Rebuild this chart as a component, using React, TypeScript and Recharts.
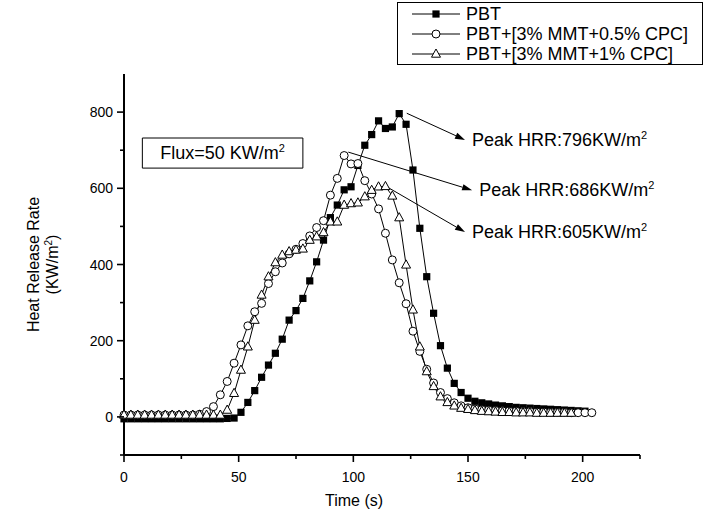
import React from "react";
import { LineChart, Line, XAxis, YAxis, Legend, ReferenceLine, ReferenceArea } from "recharts";

const FONT = '"Liberation Sans", Arial, Helvetica, sans-serif';

// time (s), one sample every 3 s
const times = [
  0, 3, 6, 9, 12, 15, 18, 21, 24, 27, 30, 33, 36, 39, 42, 45, 48, 51, 54, 57, 60, 63, 66, 69,
  72, 75, 78, 81, 84, 87, 90, 93, 96, 99, 102, 105, 108, 111, 114, 117, 120, 123, 126, 129,
  132, 135, 138, 141, 144, 147, 150, 153, 156, 159, 162, 165, 168, 171, 174, 177, 180, 183,
  186, 189, 192, 195, 198, 201, 204,
];

// HRR (KW/m2)
const pbt = [
  -5, -5, -5, -5, -5, -5, -5, -5, -5, -5, -5, -5, -5, -5, -5, -4, -3,
  12, 38, 69, 104, 136, 167, 204, 254, 279, 311, 357, 407, 464, 523, 556, 596, 604, 660, 713,
  741, 777, 757, 761, 796, 768, 648, 495,
  368, 272, 187, 128, 88, 64, 49, 41, 37, 34, 31, 29, 27, 25, 24, 23, 22, 21, 20, 19, 18, 17,
  16, 15, null,
];
const pbtHalfCpc = [
  5, 5, 5, 5, 5, 5, 5, 5, 5, 5, 5,
  7, 14, 27, 58, 93, 141, 189, 239, 276, 298, 350, 381, 404, 428, 440, 455, 475, 497, 515, 582,
  626, 686, 664, 665, 620, 585, 546, 482, 412, 352, 297, 225, 172,
  125, 89, 64, 48, 37, 29, 24, 21, 19, 18, 17, 16, 15, 15, 14, 14, 13, 13, 12, 12, 12, 11, 11,
  11, 11,
];
const pbtOneCpc = [
  5, 5, 5, 5, 5, 5, 5, 5, 5, 5, 5, 5, 5, 5, 5,
  18, 62, 123, 184, 254, 320, 368, 405, 425, 434, 438, 441, 464, 473, 484, 512, 512, 556, 560,
  562, 578, 595, 604, 605, 580, 523, 399, 281, 184,
  119, 80, 53, 38, 29, 23, 20, 17, 15, 14, 13, 12, 12, 11, 11, 11, 10, 10, 10, 10, 10, 10,
  null, null, null,
];

const seriesNames = ["PBT", "PBT+[3% MMT+0.5% CPC]", "PBT+[3% MMT+1% CPC]"];

const xTicks = [0, 25, 50, 75, 100, 125, 150, 175, 200, 225];
const xLabels = [0, 50, 100, 150, 200];
const yTicks = [-100, 0, 100, 200, 300, 400, 500, 600, 700, 800];
const yLabels = [0, 200, 400, 600, 800];

const peakTexts = ["Peak HRR:796KW/m", "Peak HRR:686KW/m", "Peak HRR:605KW/m"];
const arrowFrom = [
  { x: 123.3, y: 797 },
  { x: 97.8, y: 695 },
  { x: 114.6, y: 604 },
];
const arrowTo = [
  { x: 148.7, y: 727 },
  { x: 151.8, y: 595 },
  { x: 148.7, y: 485 },
];

const data = times.map((t, i) => ({
  t,
  pbt: pbt[i],
  half: pbtHalfCpc[i],
  one: pbtOneCpc[i],
}));

function SquareDot(p: any) {
  if (p.cx == null || p.cy == null || p.value == null) return <g />;
  return <rect x={p.cx - 3.6} y={p.cy - 3.6} width={7.2} height={7.2} fill="#000" />;
}

function CircleDot(p: any) {
  if (p.cx == null || p.cy == null || p.value == null) return <g />;
  return <circle cx={p.cx} cy={p.cy} r={4} fill="#fff" stroke="#000" strokeWidth={1} />;
}

function triPoints(cx: number, cy: number) {
  return `${cx},${cy - 5} ${cx - 4.5},${cy + 3.2} ${cx + 4.5},${cy + 3.2}`;
}

function TriangleDot(p: any) {
  if (p.cx == null || p.cy == null || p.value == null) return <g />;
  return <polygon points={triPoints(p.cx, p.cy)} fill="#fff" stroke="#000" strokeWidth={1} />;
}

function XTick({ x, y, payload }: any) {
  const major = xLabels.includes(payload.value);
  return (
    <g>
      <line x1={x} x2={x} y1={y} y2={y + (major ? 7 : 4)} stroke="#000" strokeWidth={1.6} />
      {major && (
        <text x={x} y={y + 27} textAnchor="middle" fontSize={14} fontFamily={FONT} fill="#000">
          {payload.value}
        </text>
      )}
    </g>
  );
}

function YTick({ x, y, payload }: any) {
  const major = yLabels.includes(payload.value);
  return (
    <g>
      <line x1={x} x2={x - (major ? 7 : 4)} y1={y} y2={y} stroke="#000" strokeWidth={1.6} />
      {major && (
        <text x={x - 11} y={y + 5} textAnchor="end" fontSize={14} fontFamily={FONT} fill="#000">
          {payload.value}
        </text>
      )}
    </g>
  );
}

function XTitle({ viewBox }: any) {
  return (
    <text x={viewBox.x + 230} y={viewBox.y + 51} textAnchor="middle" fontSize={16} fontFamily={FONT} fill="#000">
      Time (s)
    </text>
  );
}

function YTitle({ viewBox }: any) {
  const cy = viewBox.y + viewBox.height / 2;
  return (
    <g fontSize={16} fontFamily={FONT} fill="#000">
      <text x={39} y={cy} textAnchor="middle" transform={`rotate(-90, 39, ${cy})`}>
        Heat Release Rate
      </text>
      <text x={58} y={cy} textAnchor="middle" transform={`rotate(-90, 58, ${cy})`}>
        (KW/m<tspan dy={-6} fontSize={10}>2</tspan>
        <tspan dy={6}>)</tspan>
      </text>
    </g>
  );
}

function FluxLabel({ viewBox }: any) {
  const cx = viewBox.x + viewBox.width / 2;
  const cy = viewBox.y + viewBox.height / 2;
  return (
    <text x={cx} y={cy + 6} textAnchor="middle" fontSize={18} fontFamily={FONT} fill="#000">
      Flux=50 KW/m<tspan dy={-7} fontSize={11}>2</tspan>
    </text>
  );
}

function makeArrow(text: string) {
  return (p: any) => {
    const { x1, y1, x2, y2 } = p;
    const ang = Math.atan2(y2 - y1, x2 - x1);
    const len = 10;
    const w = 3.2;
    const bx = x2 - len * Math.cos(ang);
    const by = y2 - len * Math.sin(ang);
    const px = -Math.sin(ang) * w;
    const py = Math.cos(ang) * w;
    return (
      <g>
        <line x1={x1} y1={y1} x2={bx} y2={by} stroke="#000" strokeWidth={1} />
        <polygon points={`${x2},${y2} ${bx + px},${by + py} ${bx - px},${by - py}`} fill="#000" />
        <text x={x2 + 7} y={y2 + 6} fontSize={18} fontFamily={FONT} fill="#000">
          {text}
          <tspan dy={-7} fontSize={11}>2</tspan>
        </text>
      </g>
    );
  };
}

function LegendBox() {
  const markers = [
    (cx: number, cy: number) => <rect x={cx - 3.6} y={cy - 3.6} width={7.2} height={7.2} fill="#000" />,
    (cx: number, cy: number) => <circle cx={cx} cy={cy} r={4} fill="#fff" stroke="#000" />,
    (cx: number, cy: number) => <polygon points={triPoints(cx, cy)} fill="#fff" stroke="#000" />,
  ];
  return (
    <svg width={306} height={63} style={{ display: "block" }}>
      <rect x={0.5} y={0.5} width={305} height={62} fill="#fff" stroke="#000" strokeWidth={1} />
      {seriesNames.map((name, i) => {
        const cy = 12 + i * 20;
        return (
          <g key={name}>
            <line x1={15} x2={63} y1={cy} y2={cy} stroke="#000" strokeWidth={1} />
            {markers[i](39, cy)}
            <text x={69} y={cy + 6} fontSize={18} fontFamily={FONT} fill="#000">
              {name}
            </text>
          </g>
        );
      })}
    </svg>
  );
}

export default function App() {
  return (
    <div style={{ position: "absolute", left: 0, top: 0, width: 708, height: 512, background: "#fff", fontFamily: FONT }}>
      <LineChart width={708} height={512} data={data} margin={{ top: 74, right: 68, bottom: 0, left: 0 }}>
        <XAxis
          dataKey="t"
          type="number"
          domain={[0, 225]}
          ticks={xTicks}
          interval={0}
          tickSize={0}
          tickMargin={0}
          tickLine={false}
          tick={<XTick />}
          axisLine={{ stroke: "#000", strokeWidth: 2 }}
          height={57}
          label={<XTitle />}
        />
        <YAxis
          type="number"
          domain={[-100, 900]}
          ticks={yTicks}
          interval={0}
          tickSize={0}
          tickMargin={0}
          tickLine={false}
          tick={<YTick />}
          axisLine={{ stroke: "#000", strokeWidth: 2 }}
          width={124}
          label={<YTitle />}
        />
        <Legend
          layout="vertical"
          align="center"
          verticalAlign="middle"
          content={<LegendBox />}
          wrapperStyle={{ left: 397, top: 2, width: 306, height: 63 }}
        />
        <ReferenceArea
          x1={8}
          x2={78}
          y1={653}
          y2={732}
          fill="#fff"
          fillOpacity={1}
          stroke="#000"
          strokeWidth={1}
          ifOverflow="visible"
          label={<FluxLabel />}
        />
        <Line dataKey="pbt" name={seriesNames[0]} stroke="#000" strokeWidth={1} dot={<SquareDot />} isAnimationActive={false} />
        <Line dataKey="half" name={seriesNames[1]} stroke="#000" strokeWidth={1} dot={<CircleDot />} isAnimationActive={false} />
        <Line dataKey="one" name={seriesNames[2]} stroke="#000" strokeWidth={1} dot={<TriangleDot />} isAnimationActive={false} />
        {peakTexts.map((txt, i) => (
          <ReferenceLine
            key={txt}
            segment={[arrowFrom[i], arrowTo[i]]}
            ifOverflow="visible"
            shape={makeArrow(txt)}
          />
        ))}
      </LineChart>
    </div>
  );
}
